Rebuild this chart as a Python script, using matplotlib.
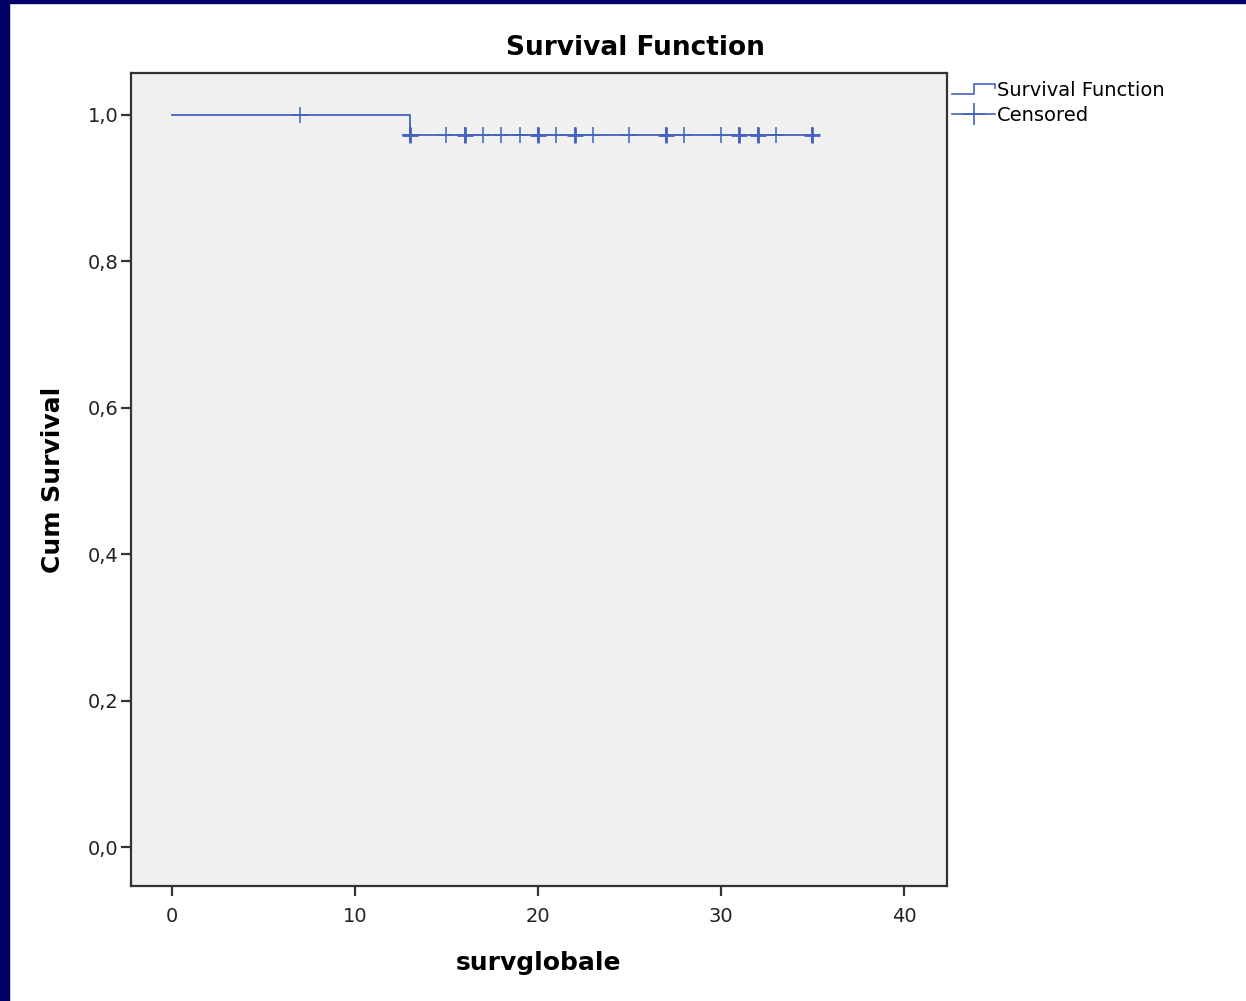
import matplotlib
matplotlib.use("Agg")
import matplotlib.pyplot as plt
from matplotlib.lines import Line2D
from matplotlib.legend_handler import HandlerBase
from matplotlib.patches import Rectangle

# survival step data
step_times = [0, 13, 13, 35]
step_surv = [1.0, 1.0, 0.973, 0.973]

# censored observations (time, survival at that time)
cens_times = [7, 13, 15, 16, 17, 18, 19, 20, 21, 22, 23, 25, 27, 28, 30, 31, 32, 33, 35]
cens_surv = [1.0] + [0.973] * 18
cens_bold = [13, 16, 20, 22, 27, 31, 32, 35]

x_ticks = [0, 10, 20, 30, 40]
y_ticks = [0.0, 0.2, 0.4, 0.6, 0.8, 1.0]
y_labels = ["0,0", "0,2", "0,4", "0,6", "0,8", "1,0"]

col = "#4562bd"


class StepHandler(HandlerBase):
    def create_artists(self, legend, orig_handle, xd, yd, w, h, fontsize, trans):
        xs = [xd, xd + w * 0.5, xd + w * 0.5, xd + w, xd + w]
        ys = [yd + h * 0.15, yd + h * 0.15, yd + h * 0.9, yd + h * 0.9, yd + h * 0.55]
        ln = Line2D(xs, ys, color=col, lw=1.2, transform=trans)
        return [ln]


fig = plt.figure(figsize=(12.46, 10.01), dpi=100)
fig.patch.set_facecolor("white")
# dark blue slide frame
fig.patches.append(Rectangle((0, 0), 0.0075, 1, transform=fig.transFigure, color="#000066", zorder=0))
fig.patches.append(Rectangle((0, 0.997), 1, 0.003, transform=fig.transFigure, color="#000066", zorder=0))

ax = fig.add_axes([0.1051, 0.1149, 0.6549, 0.8121])
ax.set_facecolor("#f0f0f0")

step_line, = ax.plot(step_times, step_surv, color=col, lw=1.3)
ax.plot(cens_times, cens_surv, ls="none", marker="+", ms=11, mew=1.1, color=col)
bold_s = [cens_surv[cens_times.index(t)] for t in cens_bold]
ax.plot(cens_bold, bold_s, ls="none", marker="+", ms=11, mew=2.0, color=col)

ax.set_xlim(-2.24, 42.35)
ax.set_ylim(-0.053, 1.057)
ax.set_xticks(x_ticks)
ax.set_xticklabels([str(t) for t in x_ticks], fontsize=14, color="#222222")
ax.set_yticks(y_ticks)
ax.set_yticklabels(y_labels, fontsize=14, color="#222222")
ax.tick_params(direction="out", length=7, width=1.6, color="#333333")
ax.tick_params(axis="x", pad=8)
ax.tick_params(axis="y", pad=2)
for s in ax.spines.values():
    s.set_color("#333333")
    s.set_linewidth(1.6)

fig.text(0.51, 0.952, "Survival Function", fontsize=19, fontweight="bold",
         ha="center", va="center")
ax.set_xlabel("survglobale", fontsize=18, fontweight="bold", labelpad=18)
ax.set_ylabel("Cum Survival", fontsize=18, fontweight="bold", labelpad=16)

cens_handle = Line2D([], [], color=col, lw=1.2, marker="+", ms=16, mew=1.2)
leg = fig.legend([step_line, cens_handle], ["Survival Function", "Censored"],
                 handler_map={step_line: StepHandler()},
                 loc="upper left", bbox_to_anchor=(0.758, 0.927), frameon=False,
                 fontsize=14, handlelength=2.2, handletextpad=0.1, labelspacing=0.3,
                 borderaxespad=0)

fig.savefig("out.png", dpi=100)
